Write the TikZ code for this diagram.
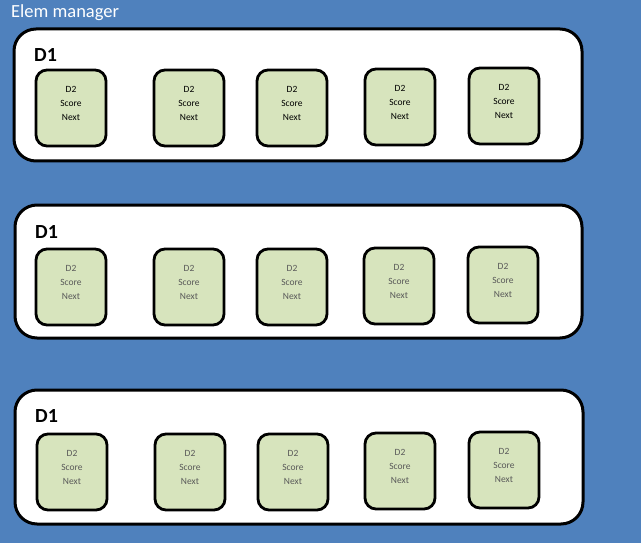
\documentclass[tikz,border=0pt]{standalone}
\usepackage{fontspec}
\setmainfont{Carlito}
\definecolor{bgblue}{HTML}{4F81BD}
\definecolor{cellgreen}{HTML}{D7E4BD}
\definecolor{txtgray}{HTML}{595959}
\begin{document}
\begin{tikzpicture}[x=1pt,y=-1pt,
  outerbox/.style={draw=black,fill=white,line width=3pt,rounded corners=22pt},
  cellbox/.style={draw=black,fill=cellgreen,line width=2.8pt,rounded corners=11pt},
  celltext/.style={font=\fontsize{9.5}{14}\selectfont,align=center,inner sep=0pt},
  dlabel/.style={font=\fontsize{20}{20}\selectfont\bfseries,anchor=west,inner sep=0pt},
  title/.style={font=\fontsize{18.5}{18.5}\selectfont,text=white,anchor=west,inner sep=0pt}]
\fill[bgblue] (0,0) rectangle (641,543);
\useasboundingbox (0,0) rectangle (641,543);
\node[title] (t) at (11,13) {Elem manager};
% outer boxes
\draw[outerbox] (14,29) rectangle (582,161);
\node[outer sep=0pt,inner sep=0pt] (r1) at (298,95) {};
\draw[outerbox] (15,205) rectangle (582,338);
\node[outer sep=0pt,inner sep=0pt] (r2) at (298,271) {};
\draw[outerbox] (15,390) rectangle (583,524);
\node[outer sep=0pt,inner sep=0pt] (r3) at (299,457) {};
\node[dlabel] (d1a) at (34,55) {D1};
\node[dlabel] (d1b) at (35,232) {D1};
\node[dlabel] (d1c) at (35,416) {D1};
% cells
\foreach \n/\xa/\ya/\tc in {
  a1/36/70/black, a2/154/70/black, a3/257/70/black, a4/365/69/black, a5/469/68/black,
  b1/36/249/txtgray, b2/154/249/txtgray, b3/257/249/txtgray, b4/364/248/txtgray, b5/468/247/txtgray,
  c1/37/434/txtgray, c2/155/434/txtgray, c3/258/434/txtgray, c4/365/433/txtgray, c5/469/432/txtgray}{
  \draw[cellbox] (\xa,\ya) rectangle ++(70,76);
  \node[celltext,text=\tc] (\n) at (\xa+35,\ya+33) {D2\\Score\\Next};
}
\end{tikzpicture}
\end{document}
